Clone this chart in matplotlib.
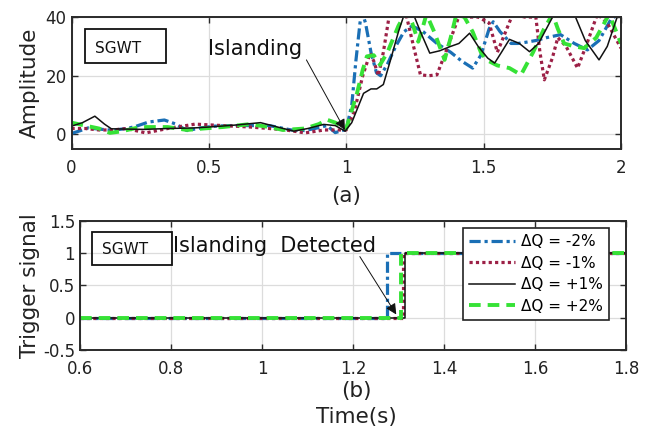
import matplotlib
matplotlib.use("Agg")
import matplotlib.pyplot as plt
from matplotlib.patches import Rectangle

# ---------------- (a) SGWT amplitude ----------------
t_m2 = [0, 0.03, 0.06, 0.1, 0.15, 0.2, 0.23, 0.28, 0.338, 0.38, 0.42, 0.47, 0.52, 0.58,
        0.65, 0.72, 0.8, 0.85, 0.9, 0.93, 0.96, 1.0, 1.02, 1.035, 1.05, 1.057, 1.07,
        1.09, 1.11, 1.125, 1.15, 1.18, 1.21, 1.24, 1.28, 1.33, 1.38, 1.42, 1.46, 1.49,
        1.52, 1.535, 1.56, 1.6, 1.625, 1.66, 1.69, 1.73, 1.78, 1.83, 1.878, 1.92, 1.962, 2.0]
a_m2 = [0.3, 1.2, 2.2, 1.8, 1.4, 2.0, 2.6, 4.2, 4.9, 3.5, 1.3, 2.2, 2.8, 3.0,
        3.0, 3.0, 1.5, 1.3, 2.3, 3.0, 0.6, 1.7, 10, 25, 38, 42, 38,
        28, 21, 20, 24, 30, 35, 37, 35, 31, 28, 25, 22.6, 27,
        36, 38.4, 35, 31, 31, 31.5, 32, 33, 34, 31, 28.8, 32, 39, 42]

t_m1 = [0, 0.05, 0.1, 0.15, 0.2, 0.27, 0.35, 0.45, 0.55, 0.65, 0.72, 0.78, 0.85, 0.92,
        1.0, 1.03, 1.06, 1.087, 1.1, 1.117, 1.135, 1.159, 1.19, 1.22, 1.245, 1.27, 1.3,
        1.33, 1.37, 1.413, 1.45, 1.48, 1.52, 1.55, 1.58, 1.606, 1.65, 1.69, 1.705, 1.721,
        1.75, 1.77, 1.8, 1.842, 1.88, 1.914, 1.95, 2.0]
a_m1 = [2.0, 2.0, 1.5, 1.5, 2.0, 0.5, 2.0, 3.5, 3.0, 2.5, 2.0, 1.5, 0.5, 1.5,
        1.5, 8, 20, 27.7, 25, 20, 28, 42, 43, 40, 30, 20.3, 20,
        20.3, 30, 41, 40, 40, 38, 28, 35, 41, 40, 40, 28, 18.6,
        26, 33, 30, 22.6, 32, 41, 38, 29.4]

t_p1 = [0, 0.04, 0.085, 0.12, 0.145, 0.2, 0.265, 0.35, 0.447, 0.5, 0.6, 0.688, 0.75,
        0.809, 0.86, 0.918, 0.96, 0.996, 1.02, 1.063, 1.09, 1.111, 1.135, 1.16, 1.19,
        1.215, 1.24, 1.27, 1.304, 1.34, 1.377, 1.41, 1.449, 1.48, 1.515, 1.54, 1.565,
        1.594, 1.63, 1.667, 1.7, 1.751, 1.78, 1.83, 1.87, 1.92, 1.95, 1.986, 2.0]
a_p1 = [2.8, 4.0, 6.2, 3.5, 1.9, 1.8, 1.7, 2.0, 2.2, 2.5, 3.2, 4.0, 2.5,
        1.1, 2.0, 3.4, 3.0, 1.1, 4.0, 14, 15.5, 15.5, 17, 25, 35,
        42, 42, 35, 27.7, 28.5, 29.9, 31, 34.5, 30, 26, 24.3, 28,
        32.4, 31, 28.2, 31, 40, 43, 41, 32, 25.4, 30, 40, 42]

t_p2 = [0, 0.05, 0.1, 0.14, 0.18, 0.25, 0.35, 0.42, 0.48, 0.55, 0.65, 0.72, 0.77, 0.85,
        0.9, 0.93, 0.96, 1.0, 1.039, 1.06, 1.075, 1.1, 1.123, 1.15, 1.19, 1.22, 1.24,
        1.262, 1.28, 1.292, 1.32, 1.358, 1.38, 1.401, 1.43, 1.46, 1.49, 1.51, 1.55,
        1.594, 1.636, 1.68, 1.72, 1.751, 1.77, 1.793, 1.83, 1.866, 1.91, 1.957, 2.0]
a_p2 = [4.0, 3.0, 2.0, 0.5, 1.0, 2.5, 2.5, 1.5, 2.0, 2.5, 3.5, 2.5, 1.5, 2.0,
        3.5, 5.0, 4.0, 2.0, 14, 22, 26.6, 27, 23.7, 28, 37, 42, 38,
        31.6, 37, 41, 35, 25.4, 33, 41, 40, 35, 28, 25.4, 23.5,
        22.6, 20.3, 28, 36, 41, 36, 31, 30, 29.4, 33, 41, 31]

# ---------------- (b) trigger signal ----------------
trig_levels = [0, 1]
detect_times = {"m2": 1.275, "m1": 1.31, "p1": 1.315, "p2": 1.305}
t_start, t_end = 0.6, 1.8

labels = {"m2": "ΔQ = -2%", "m1": "ΔQ = -1%", "p1": "ΔQ = +1%", "p2": "ΔQ = +2%"}

c_blue = "#1a6fb5"
c_purple = "#9c2046"
c_black = "#111111"
c_green = "#36e236"

styles = {
    "m2": dict(color=c_blue, lw=2.3, dashes=(3.5, 1.2, 1.0, 1.2)),
    "m1": dict(color=c_purple, lw=2.3, dashes=(1.0, 1.0)),
    "p1": dict(color=c_black, lw=1.1),
    "p2": dict(color=c_green, lw=2.8, dashes=(3.0, 1.8)),
}

plt.rcParams["font.family"] = "DejaVu Sans"
fig = plt.figure(figsize=(6.53, 4.32), dpi=100)

ax1 = fig.add_axes([0.1095, 0.655, 0.8415, 0.3055])
ax2 = fig.add_axes([0.1225, 0.19, 0.8362, 0.2986])

frame_col = "#2a2a2a"
for ax in (ax1, ax2):
    ax.grid(True, color="#dcdcdc", lw=0.9)
    ax.set_axisbelow(True)
    for s in ax.spines.values():
        s.set_color(frame_col)
        s.set_linewidth(1.4)
    ax.tick_params(direction="in", length=4, width=1.0, colors=frame_col,
                   top=True, right=True, labelsize=12, labelcolor="#222222")
    ax.tick_params(axis="x", pad=7)

# top panel
series_a = [("m2", t_m2, a_m2), ("m1", t_m1, a_m1), ("p2", t_p2, a_p2), ("p1", t_p1, a_p1)]
for key, t, a in series_a:
    ax1.plot(t, a, **styles[key])
ax1.set_xlim(0, 2)
ax1.set_ylim(-5, 40)
ax1.set_xticks([0, 0.5, 1, 1.5, 2])
ax1.set_xticklabels(["0", "0.5", "1", "1.5", "2"])
ax1.set_yticks([0, 20, 40])
ax1.set_ylabel("Amplitude", fontsize=15.5, color="#222222", labelpad=4)

ax1.add_patch(Rectangle((0.0246, 0.654), 0.147, 0.253, transform=ax1.transAxes,
                        fill=False, ec="#111111", lw=1.3, zorder=5))
ax1.text(0.043, 0.765, "SGWT", transform=ax1.transAxes, fontsize=11,
         va="center", ha="left", color="#111111")
ax1.text(0.496, 27.1, "Islanding", fontsize=15, color="#111111", va="baseline")
ax1.annotate("", xy=(0.995, 1.5), xytext=(0.855, 25.4),
             arrowprops=dict(arrowstyle="-|>", color="#111111", lw=0.7,
                             mutation_scale=16, shrinkA=0, shrinkB=0), zorder=6)

# bottom panel
order_b = ["m2", "m1", "p1", "p2"]
for key in order_b:
    td = detect_times[key]
    ax2.plot([t_start, td, td, t_end],
             [trig_levels[0], trig_levels[0], trig_levels[1], trig_levels[1]],
             label=labels[key], **styles[key])
ax2.set_xlim(0.6, 1.8)
ax2.set_ylim(-0.5, 1.5)
ax2.set_xticks([0.6, 0.8, 1.0, 1.2, 1.4, 1.6, 1.8])
ax2.set_xticklabels(["0.6", "0.8", "1", "1.2", "1.4", "1.6", "1.8"])
ax2.set_yticks([-0.5, 0, 0.5, 1, 1.5])
ax2.set_yticklabels(["-0.5", "0", "0.5", "1", "1.5"])
ax2.set_ylabel("Trigger signal", fontsize=15.5, color="#222222", labelpad=2)

ax2.add_patch(Rectangle((0.0214, 0.659), 0.148, 0.258, transform=ax2.transAxes,
                        fill=False, ec="#111111", lw=1.3, zorder=5))
ax2.text(0.0397, 0.775, "SGWT", transform=ax2.transAxes, fontsize=11,
         va="center", ha="left", color="#111111")
ax2.text(0.804, 1.02, "Islanding  Detected", fontsize=15, color="#111111",
         va="baseline")
ax2.annotate("", xy=(1.295, 0.05), xytext=(1.215, 0.947),
             arrowprops=dict(arrowstyle="-|>", color="#111111", lw=0.7,
                             mutation_scale=16, shrinkA=0, shrinkB=0), zorder=6)

leg = ax2.legend(loc="upper right", bbox_to_anchor=(0.968, 0.943),
                 borderaxespad=0, fontsize=11, handlelength=3.0,
                 handletextpad=0.35, labelspacing=0.42, borderpad=0.4,
                 fancybox=False, framealpha=1, edgecolor="#222222")
leg.get_frame().set_linewidth(1.2)

fig.text(0.530, 0.546, "(a)", fontsize=15.5, ha="center", va="center", color="#222222")
fig.text(0.545, 0.095, "(b)", fontsize=15.5, ha="center", va="center", color="#222222")
fig.text(0.545, 0.035, "Time(s)", fontsize=15.5, ha="center", va="center", color="#222222")

fig.savefig("out.png", dpi=100)
